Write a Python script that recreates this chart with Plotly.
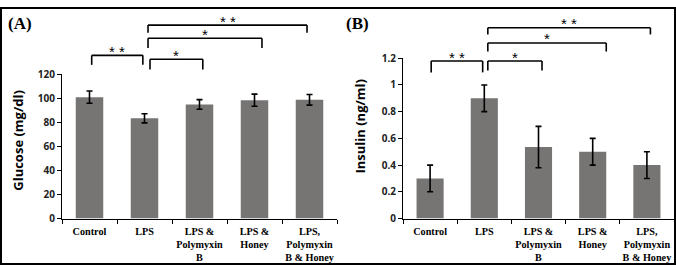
import plotly.graph_objects as go

categories = ["Control", "LPS", "LPS &<br>Polymyxin<br>B", "LPS &<br>Honey", "LPS,<br>Polymyxin<br>B & Honey"]
glucose = [101, 83.4, 95, 98.5, 98.8]
glucose_err = [5.1, 3.8, 4.0, 5.0, 4.4]
insulin = [0.30, 0.90, 0.535, 0.50, 0.40]
insulin_err = [0.10, 0.10, 0.155, 0.10, 0.10]
glucose_ticks = [0, 20, 40, 60, 80, 100, 120]
insulin_ticks = [0, 0.2, 0.4, 0.6, 0.8, 1.0, 1.2]
insulin_ticktext = ["0", "0.2", "0.4", "0.6", "0.8", "1", "1.2"]

# significance brackets: (from position, to position, top level, tick end level, label)
glucose_brackets = [
    (0.04, 0.97, 135.8, 127.9, "**"),
    (1.10, 2.06, 132.6, 124.0, "*"),
    (1.064, 3.136, 150.0, 142.0, "*"),
    (1.064, 3.955, 161.0, 154.7, "**"),
]
insulin_brackets = [
    (0.02, 0.97, 1.179, 1.094, "**"),
    (1.065, 2.065, 1.179, 1.108, "*"),
    (1.065, 3.25, 1.314, 1.25, "*"),
    (1.065, 4.065, 1.428, 1.378, "**"),
]

W, H = 676, 272
BAR = "#777474"

fig = go.Figure()
fig.add_trace(go.Bar(x=categories, y=glucose, marker=dict(color=BAR, line=dict(width=0)),
                     error_y=dict(type="data", array=glucose_err, color="black", thickness=1.6, width=3),
                     xaxis="x", yaxis="y", showlegend=False))
fig.add_trace(go.Bar(x=categories, y=insulin, marker=dict(color=BAR, line=dict(width=0)),
                     error_y=dict(type="data", array=insulin_err, color="black", thickness=1.6, width=3),
                     xaxis="x2", yaxis="y2", showlegend=False))

def px_x(p):
    return p / W

def px_y(p):
    return (H - p) / H

tickfont_x = dict(family="Liberation Serif", size=10.2, color="black", weight="bold")
tickfont_y = dict(family="Open Sans", size=10, color="#222", weight="bold")

common_x = dict(type="category", showline=True, linecolor="black", linewidth=1, ticks="outside",
                tickson="boundaries", ticklen=4, tickcolor="black", tickfont=tickfont_x, tickangle=0,
                ticklabelstandoff=3, showgrid=False, zeroline=False)
common_y = dict(showline=True, linecolor="black", linewidth=1, ticks="outside", ticklen=4,
                tickcolor="black", tickfont=tickfont_y, showgrid=False, zeroline=False)

fig.update_layout(
    width=W, height=H, margin=dict(l=0, r=0, t=0, b=0),
    paper_bgcolor="white", plot_bgcolor="white", bargap=0.5,
    xaxis=dict(domain=[px_x(62), px_x(337)], anchor="y", **common_x),
    yaxis=dict(domain=[px_y(223), px_y(71)], anchor="x", range=[0, 120], tickvals=glucose_ticks, **common_y),
    xaxis2=dict(domain=[px_x(403), px_x(674)], anchor="y2", **common_x),
    yaxis2=dict(domain=[px_y(223), px_y(54)], anchor="x2", range=[0, 1.2], tickvals=insulin_ticks,
                ticktext=insulin_ticktext, **common_y),
)

shapes = []
annotations = []

def add_brackets(brackets, xr, yr, ymax):
    for x0, x1, ytop, ybot, label in brackets:
        fx0 = (x0 + 0.5) / 5
        fx1 = (x1 + 0.5) / 5
        ft = ytop / ymax
        fb = ybot / ymax
        ln = dict(color="black", width=1.6)
        shapes.append(dict(type="line", xref=xr, yref=yr, x0=fx0, x1=fx1, y0=ft, y1=ft, line=ln))
        shapes.append(dict(type="line", xref=xr, yref=yr, x0=fx0, x1=fx0, y0=ft, y1=fb, line=ln))
        shapes.append(dict(type="line", xref=xr, yref=yr, x0=fx1, x1=fx1, y0=ft, y1=fb, line=ln))
        annotations.append(dict(xref=xr, yref=yr, x=(fx0 + fx1) / 2, y=ft, text=label.replace("*", "* ").strip(),
                                showarrow=False, yanchor="middle", xanchor="center", yshift=4,
                                font=dict(family="Liberation Sans", size=15, color="black")))

add_brackets(glucose_brackets, "x domain", "y domain", 120)
add_brackets(insulin_brackets, "x2 domain", "y2 domain", 1.2)

# frame
shapes.append(dict(type="rect", xref="paper", yref="paper", x0=px_x(1), x1=px_x(675), y0=px_y(271), y1=px_y(1),
                   line=dict(color="black", width=2)))

# axis titles
annotations.append(dict(xref="paper", yref="paper", x=px_x(18), y=px_y(141), text="Glucose (mg/dl)",
                        textangle=-90, showarrow=False, xanchor="center", yanchor="middle",
                        font=dict(family="Open Sans", size=13, color="black", weight="bold")))
annotations.append(dict(xref="paper", yref="paper", x=px_x(360), y=px_y(126), text="Insulin (ng/ml)",
                        textangle=-90, showarrow=False, xanchor="center", yanchor="middle",
                        font=dict(family="Open Sans", size=13, color="black", weight="bold")))
# panel labels
annotations.append(dict(xref="paper", yref="paper", x=px_x(20), y=px_y(17.5), text="(A)",
                        showarrow=False, xanchor="center", yanchor="middle",
                        font=dict(family="Liberation Serif", size=17, color="black", weight="bold")))
annotations.append(dict(xref="paper", yref="paper", x=px_x(357), y=px_y(17.5), text="(B)",
                        showarrow=False, xanchor="center", yanchor="middle",
                        font=dict(family="Liberation Serif", size=17, color="black", weight="bold")))

fig.update_layout(shapes=shapes, annotations=annotations)
fig.write_html("out.html", config={"displayModeBar": False},
               post_script="document.body.style.margin='0px';document.body.style.overflow='hidden';")
